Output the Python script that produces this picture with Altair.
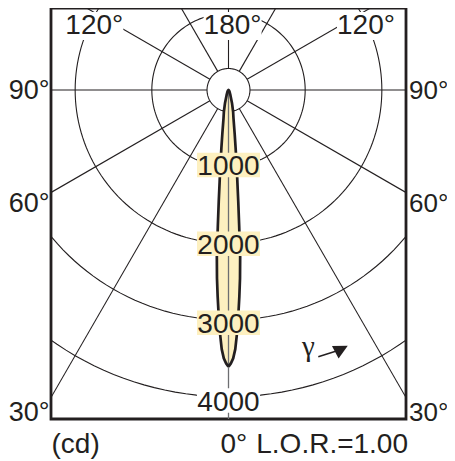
import math
import altair as alt
import pandas as pd

# ---- data -------------------------------------------------------------
# luminous intensity distribution (symmetric), gamma in degrees from nadir
gamma_deg = [0, 0.5, 1, 1.5, 2, 2.5, 3, 3.5, 4, 4.5, 5, 5.5, 6, 7, 8, 10, 12, 15, 20, 30, 45, 90]
intensity = [3610, 3565, 3500, 3380, 3175, 2940, 2700, 2460, 2180, 1770, 1460, 1210,
             1045, 760, 580, 375, 290, 175, 75, 30, 12, 0]

inner_ring = 280
ring_values = [1000, 2000, 3000, 4000]
ring_labels = ["1000", "2000", "3000", "4000"]
ring_label_depth = [977, 2005, 3036, 4049]
ring_box_fill = ["#fdf0c0", "#fdf0c0", "#fdf0c0", "#ffffff"]

spoke_angles = [30, 60, 90, 120, 150, 180, 210, 240, 270, 300, 330]

side_labels = ["90°", "60°", "30°"]
side_label_y = [-124, -1587, -4316]
left_label_x = [-2867, -2867, -2867]
right_label_x = [2354, 2354, 2354]

top_labels = ["120°", "180°", "120°"]
top_label_x = [-1750, 53, 1793]
top_label_y = [730, 730, 730]
top_box_y = [835, 835, 835]

bottom_labels = ["(cd)", "0°", "L.O.R.=1.00"]
bottom_label_x = [-2308, -104, 362]
bottom_label_y = [-4727, -4727, -4727]

gamma_text_pos = [1041, -3463]
arrow_from = [1171, -3478]
arrow_to = [1428, -3397]
arrow_head = [1474, -3377]

X_DOMAIN = [-2315, 2315]
Y_DOMAIN = [-4290, 1069]

INK = "#231f20"
FILL = "#fdf0c0"
FONT = "Liberation Sans"

# ---- derived tables ------------------------------------------------------
xs = alt.Scale(domain=X_DOMAIN, nice=False, zero=False)
ys = alt.Scale(domain=Y_DOMAIN, nice=False, zero=False)


def X(f="x"):
    return alt.X(f + ":Q", scale=xs, axis=None)


def Y(f="y"):
    return alt.Y(f + ":Q", scale=ys, axis=None)


circ_rows = []
for r in [inner_ring] + ring_values:
    for k, a in enumerate(range(0, 361, 2)):
        t = math.radians(a)
        circ_rows.append({"ring": r, "k": k, "x": r * math.sin(t), "y": -r * math.cos(t)})
circ_df = pd.DataFrame(circ_rows)

spoke_rows = []
for a in spoke_angles:
    t = math.radians(a)
    spoke_rows.append({"x": inner_ring * math.sin(t), "y": -inner_ring * math.cos(t),
                       "x2": 9000 * math.sin(t), "y2": -9000 * math.cos(t)})
spoke_df = pd.DataFrame(spoke_rows)
nadir_df = pd.DataFrame([{"x": 0, "y": 0, "x2": 0, "y2": -9000}])

area_rows = []
for g, i in zip(gamma_deg, intensity):
    t = math.radians(g)
    area_rows.append({"y": -i * math.cos(t), "x": i * math.sin(t), "x2": -i * math.sin(t)})
area_df = pd.DataFrame(area_rows)

outline_rows = []
k = 0
for g, i in zip(gamma_deg, intensity):
    t = math.radians(g)
    outline_rows.append({"k": k, "x": i * math.sin(t), "y": -i * math.cos(t)})
    k += 1
for g, i in zip(reversed(gamma_deg), reversed(intensity)):
    t = math.radians(g)
    outline_rows.append({"k": k, "x": -i * math.sin(t), "y": -i * math.cos(t)})
    k += 1
outline_df = pd.DataFrame(outline_rows)

ring_lab_df = pd.DataFrame({"x": [0] * 4, "y": [-d for d in ring_label_depth],
                            "label": ring_labels, "fill": ring_box_fill})
top_df = pd.DataFrame({"x": top_label_x, "y": top_label_y, "by": top_box_y, "label": top_labels})
left_df = pd.DataFrame({"x": left_label_x, "y": side_label_y, "label": side_labels})
right_df = pd.DataFrame({"x": right_label_x, "y": side_label_y, "label": side_labels})
bottom_df = pd.DataFrame({"x": bottom_label_x, "y": bottom_label_y, "label": bottom_labels})
gamma_df = pd.DataFrame({"x": [gamma_text_pos[0]], "y": [gamma_text_pos[1]], "label": ["γ"]})
arrow_df = pd.DataFrame({"x": [arrow_from[0]], "y": [arrow_from[1]],
                         "x2": [arrow_to[0]], "y2": [arrow_to[1]]})
head_df = pd.DataFrame({"x": [arrow_head[0]], "y": [arrow_head[1]]})

RING_BOX = "M-1,-0.389L1,-0.389L1,0.389L-1,0.389Z"
TOP_BOX = "M-1,-0.483L1,-0.483L1,0.483L-1,0.483Z"
HEAD = "M-1,-1L1,0L-1,1Z"

# ---- layers -------------------------------------------------------------
circles = alt.Chart(circ_df).mark_line(clip=True, stroke=INK, strokeWidth=1.1).encode(
    x=X(), y=Y(), detail="ring:N", order="k:Q")
spokes = alt.Chart(spoke_df).mark_rule(clip=True, stroke=INK, strokeWidth=1.1).encode(
    x=X(), y=Y(), x2="x2:Q", y2="y2:Q")
fill = alt.Chart(area_df).mark_area(orient="horizontal", clip=True, color=FILL, opacity=1).encode(
    y=Y(), x=X(), x2="x2:Q")
nadir = alt.Chart(nadir_df).mark_rule(clip=True, stroke="#6d6e71", strokeWidth=1.3).encode(
    x=X(), y=Y(), x2="x2:Q", y2="y2:Q")
outline = alt.Chart(outline_df).mark_line(clip=True, stroke=INK, strokeWidth=2.7,
                                          strokeJoin="round").encode(x=X(), y=Y(), order="k:Q")

ring_boxes = alt.Chart(ring_lab_df).mark_point(shape=RING_BOX, size=3969, filled=True,
                                               opacity=1, strokeWidth=0).encode(
    x=X(), y=Y(), fill=alt.Fill("fill:N", scale=None))
ring_text = alt.Chart(ring_lab_df).mark_text(font=FONT, fontSize=28, color=INK,
                                             baseline="alphabetic", dy=10).encode(
    x=X(), y=Y(), text="label:N")

top_boxes = alt.Chart(top_df).mark_point(shape=TOP_BOX, size=3364, filled=True, opacity=1,
                                         fill="white", strokeWidth=0).encode(x=X(), y=Y("by"))
top_text = alt.Chart(top_df).mark_text(font=FONT, fontSize=28, color=INK,
                                       baseline="alphabetic", align="center").encode(
    x=X(), y=Y(), text="label:N")
left_text = alt.Chart(left_df).mark_text(font=FONT, fontSize=27, color=INK,
                                         baseline="alphabetic", align="left").encode(
    x=X(), y=Y(), text="label:N")
right_text = alt.Chart(right_df).mark_text(font=FONT, fontSize=26, color=INK,
                                           baseline="alphabetic", align="left").encode(
    x=X(), y=Y(), text="label:N")
bottom_text = alt.Chart(bottom_df).mark_text(font=FONT, fontSize=28, color=INK,
                                             baseline="alphabetic", align="left").encode(
    x=X(), y=Y(), text="label:N")
gamma_text = alt.Chart(gamma_df).mark_text(font="Liberation Serif", fontSize=29, color=INK,
                                           baseline="alphabetic", align="center").encode(
    x=X(), y=Y(), text="label:N")
arrow = alt.Chart(arrow_df).mark_rule(stroke=INK, strokeWidth=1.5).encode(
    x=X(), y=Y(), x2="x2:Q", y2="y2:Q")
head = alt.Chart(head_df).mark_point(shape=HEAD, size=200, filled=True, opacity=1, fill=INK,
                                     strokeWidth=0, angle=332).encode(x=X(), y=Y())

chart = alt.layer(
    circles, spokes, fill, nadir, outline, ring_boxes, ring_text,
    top_boxes, top_text, left_text, right_text, bottom_text, gamma_text, arrow, head,
).properties(
    width=355, height=411,
    padding={"left": 43, "top": 0, "right": 41, "bottom": 42},
    autosize=alt.AutoSizeParams(type="none"),
    background="white",
).configure_view(stroke=INK, strokeWidth=2.8)

chart.save("out.html", embed_options={"renderer": "svg", "actions": False})
